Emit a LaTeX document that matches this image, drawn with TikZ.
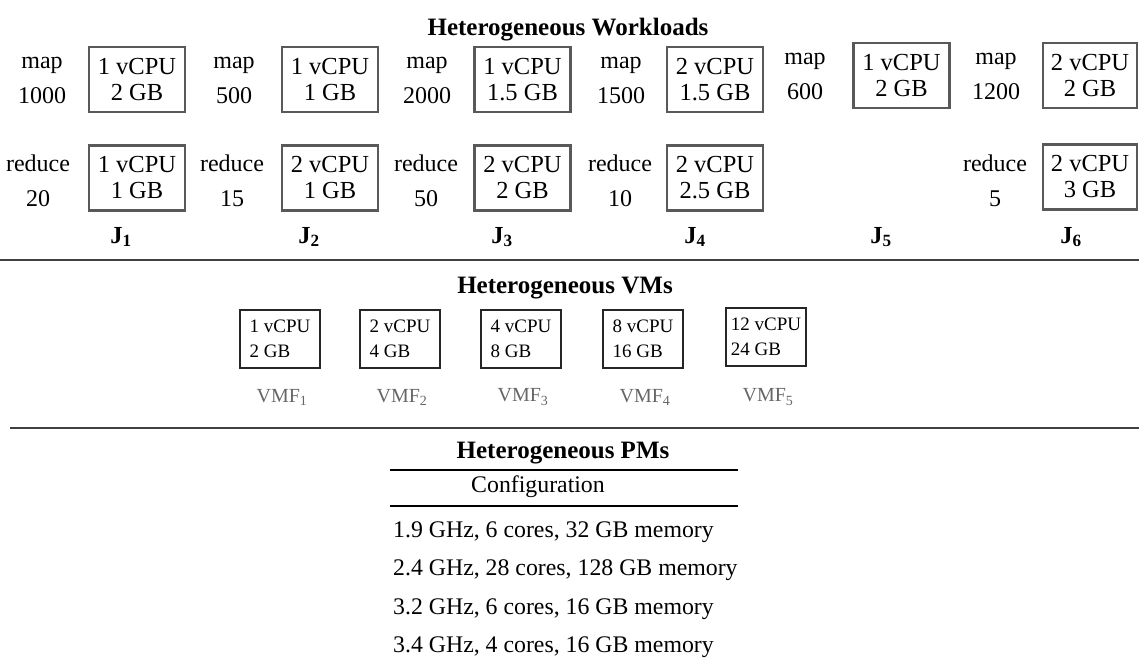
\documentclass[tikz,border=0pt]{standalone}
\usepackage{fontspec}
\setmainfont{Liberation Serif}
\usetikzlibrary{positioning}
\newcommand{\wlfont}{\fontsize{24.5}{26}\selectfont}
\newcommand{\lblfont}{\fontsize{24}{35}\selectfont}
\newcommand{\vmfont}{\fontsize{19}{25}\selectfont}
\newcommand{\vmffont}{\fontsize{20}{24}\selectfont}
\newcommand{\hdfont}{\fontsize{25}{30}\selectfont\bfseries}
\newcommand{\pmfont}{\fontsize{23.8}{28}\selectfont}

\begin{document}
\begin{tikzpicture}[x=1pt, y=-1pt,
    wbox/.style={rectangle, draw=black!65, line width=2.2pt, minimum width=96pt, minimum height=65pt, align=center, font=\wlfont, inner sep=0pt},
    vbox/.style={rectangle, draw=black!85, line width=1.6pt, minimum width=80pt, minimum height=58pt, align=left, font=\vmfont, inner sep=0pt},
    lbl/.style={align=center, font=\lblfont, inner sep=0pt},
    jlbl/.style={font=\wlfont\bfseries, inner sep=0pt},
    vlbl/.style={font=\vmffont, text=black!60, inner sep=0pt},
    head/.style={font=\hdfont, inner sep=0pt},
    row/.style={font=\pmfont, anchor=west, inner sep=0pt},
    sep/.style={draw=black!75, line width=2.2pt},
    rule/.style={draw=black, line width=1.6pt},
  ]
    \useasboundingbox (0,0) rectangle (1139,662);

    % workloads
    \node[head] (wtitle) at (568,30) {Heterogeneous Workloads};

    \node[lbl] (ml1) at (42,80) {map\\1000};
    \node[wbox] (m1) at (137,79.5) {1 vCPU\\2 GB};
    \node[lbl] (ml2) at (234,80) {map\\500};
    \node[wbox] (m2) at (330,79.5) {1 vCPU\\1 GB};
    \node[lbl] (ml3) at (427,80) {map\\2000};
    \node[wbox] (m3) at (522.5,79.5) {1 vCPU\\1.5 GB};
    \node[lbl] (ml4) at (621,80) {map\\1500};
    \node[wbox] (m4) at (715,79.5) {2 vCPU\\1.5 GB};
    \node[lbl] (ml5) at (805,76) {map\\600};
    \node[wbox] (m5) at (901.5,75.5) {1 vCPU\\2 GB};
    \node[lbl] (ml6) at (996,76) {map\\1200};
    \node[wbox, minimum width=94pt] (m6) at (1090,75.5) {2 vCPU\\2 GB};

    \node[lbl] (rl1) at (38,181) {reduce\\20};
    \node[wbox] (r1) at (137,178) {1 vCPU\\1 GB};
    \node[lbl] (rl2) at (232,181) {reduce\\15};
    \node[wbox] (r2) at (330,178) {2 vCPU\\1 GB};
    \node[lbl] (rl3) at (426,181) {reduce\\50};
    \node[wbox] (r3) at (522.5,178) {2 vCPU\\2 GB};
    \node[lbl] (rl4) at (620,181) {reduce\\10};
    \node[wbox] (r4) at (715,178) {2 vCPU\\2.5 GB};
    \node[lbl] (rl6) at (995,181) {reduce\\5};
    \node[wbox, minimum width=94pt] (r6) at (1090,177) {2 vCPU\\3 GB};

    \node[jlbl] (j1) at (121,237) {J\textsubscript{1}};
    \node[jlbl] (j2) at (309,237) {J\textsubscript{2}};
    \node[jlbl] (j3) at (502,237) {J\textsubscript{3}};
    \node[jlbl] (j4) at (695,237) {J\textsubscript{4}};
    \node[jlbl] (j5) at (881,237) {J\textsubscript{5}};
    \node[jlbl] (j6) at (1071,237) {J\textsubscript{6}};

    \draw[sep] (0,260) -- (1139,260);

    % VMs
    \node[head] (vtitle) at (565,288) {Heterogeneous VMs};

    \node[vbox] (v1) at (280,339) {1 vCPU\\2 GB};
    \node[vbox] (v2) at (400,339) {2 vCPU\\4 GB};
    \node[vbox] (v3) at (521,339) {4 vCPU\\8 GB};
    \node[vbox] (v4) at (643,339) {8 vCPU\\16 GB};
    \node[vbox] (v5) at (766,337) {12 vCPU\\24 GB};

    \node[vlbl] (f1) at (282,397) {VMF\textsubscript{1}};
    \node[vlbl] (f2) at (402,397) {VMF\textsubscript{2}};
    \node[vlbl] (f3) at (523,397) {VMF\textsubscript{3}};
    \node[vlbl] (f4) at (645,397) {VMF\textsubscript{4}};
    \node[vlbl] (f5) at (768,397) {VMF\textsubscript{5}};

    \draw[sep] (10,428) -- (1139,428);

    % PMs
    \node[head] (ptitle) at (563,453) {Heterogeneous PMs};
    \draw[rule] (390,470) -- (738,470);
    \node[font=\pmfont, inner sep=0pt] (cfg) at (538,487) {Configuration};
    \draw[rule] (390,506) -- (738,506);

    \node[row] (pm1) at (393,532) {1.9 GHz, 6 cores, 32 GB memory};
    \node[row] (pm2) at (393,570) {2.4 GHz, 28 cores, 128 GB memory};
    \node[row] (pm3) at (393,609) {3.2 GHz, 6 cores, 16 GB memory};
    \node[row] (pm4) at (393,647) {3.4 GHz, 4 cores, 16 GB memory};
  \end{tikzpicture}
\end{document}
